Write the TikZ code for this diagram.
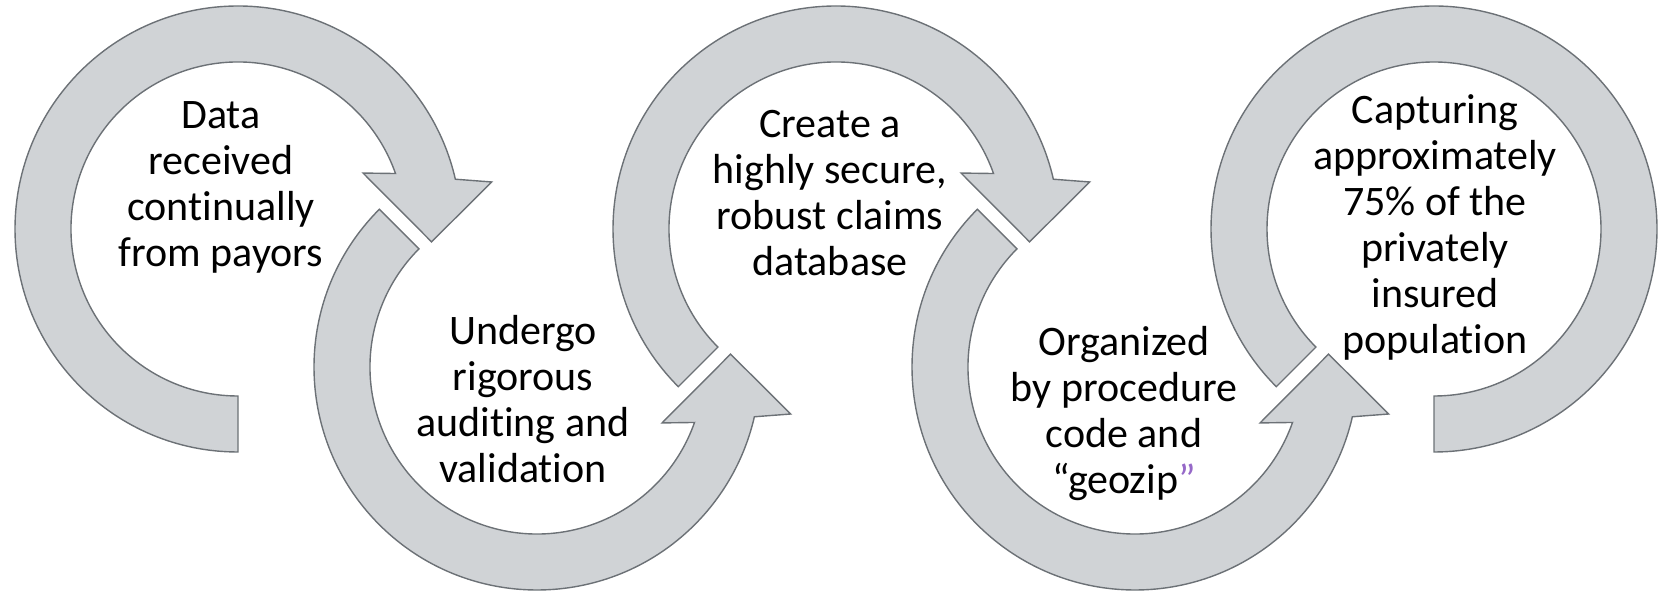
\documentclass[tikz,border=0pt]{standalone}
\usepackage{fontspec}
\setmainfont{Carlito}[Ligatures=CommonOff]
\definecolor{ringgray}{RGB}{208,211,214}
\definecolor{ringedge}{RGB}{108,113,118}
\definecolor{quotepurple}{RGB}{150,105,200}
\begin{document}
\begin{tikzpicture}
[x=1pt,y=1pt,
 ring/.style={fill=ringgray, draw=ringedge, line width=1.4pt, line join=miter},
 lbl/.style={align=center, font=\fontsize{42}{46}\selectfont}]
\useasboundingbox (0,0) rectangle (1658,591);
% upper rings with head, tail angle
\foreach \cx/\tail in {238/270,836/225}
{
  \begin{scope}[shift={(\cx,362)}]
  \draw[ring] (\tail:223) arc[start angle=\tail, end angle=12.9, radius=223]
    -- (10.5:258) -- (-3.8:194) -- (24.1:137) -- (19.4:167)
    arc[start angle=19.4, end angle=\tail, radius=167] -- cycle;
  \end{scope}
}
% lower rings with head
\foreach \cx in {537,1135}
{
  \begin{scope}[shift={(\cx,224)}]
  \draw[ring] (135:223) arc[start angle=135, end angle=347.1, radius=223]
    -- (349.5:258) -- (3.8:194) -- (335.9:137) -- (340.6:167)
    arc[start angle=340.6, end angle=135, radius=167] -- cycle;
  \end{scope}
}
% last ring, no head
\begin{scope}[shift={(1434,362)}]
\draw[ring] (225:223) arc[start angle=225, end angle=-90, radius=223]
  -- (-90:167) arc[start angle=-90, end angle=225, radius=167] -- cycle;
\end{scope}
  \node [lbl] (data) at (221,404) {Data\\received\\continually\\from payors};
  \node [lbl] (audit) at (523,192) {Undergo\\rigorous\\auditing and\\validation};
  \node [lbl] (store) at (830,398) {Create a\\highly secure,\\robust claims\\database};
  \node [lbl] (organize) at (1124,177) {Organized\\by procedure\\code and\\“geozip\textcolor{quotepurple}{”}};
  \node [lbl] (capture) at (1435,364) {Capturing\\approximately\\75\% of the\\privately\\insured\\population};
\end{tikzpicture}
\end{document}
